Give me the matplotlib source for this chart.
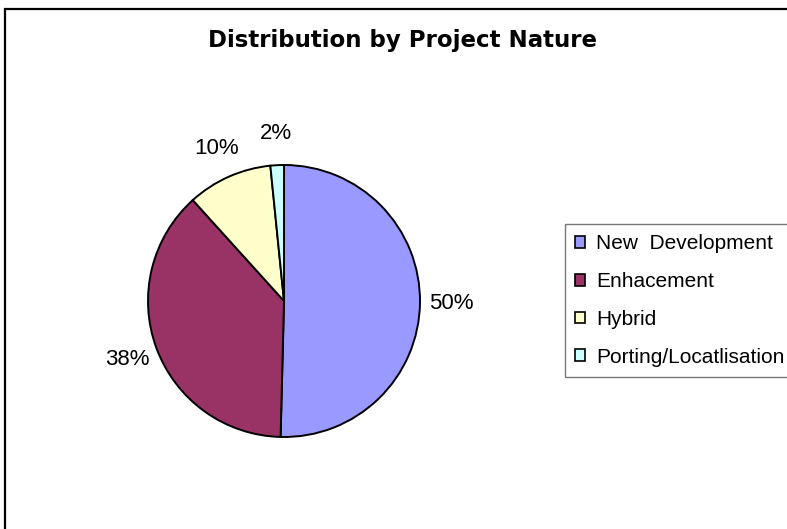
import matplotlib.pyplot as plt
from matplotlib.patches import Rectangle
import numpy as np

# Data (percent shares)
categories = ['New  Development', 'Enhacement', 'Hybrid', 'Porting/Locatlisation']
shares = [50.4, 37.9, 10.1, 1.6]
colors = ['#9999FF', '#993366', '#FFFFCC', '#CCFFFF']

plt.rcParams['font.family'] = ['Liberation Sans', 'DejaVu Sans']

W, H = 787, 529
fig = plt.figure(figsize=(W / 100, H / 100), dpi=100)

# chart-area border (right and bottom edges fall outside the picture)
fig.patches.append(Rectangle((4.5 / W, -0.1), 1.2, 1.1 - 8.5 / H,
                             transform=fig.transFigure, fill=False,
                             edgecolor='black', linewidth=1.6))

# Title
fig.text(402 / W, 1 - 47 / H, 'Distribution by Project Nature',
         ha='center', va='baseline', fontsize=16.5, fontweight='bold',
         family='DejaVu Sans')

# Pie: centre (284, 301), radius 136 px
cx, cy, r = 284, 301, 136
ax = fig.add_axes([(cx - r) / W, (H - cy - r) / H, 2 * r / W, 2 * r / H])
wedges, texts, autotexts = ax.pie(shares, colors=colors, startangle=90,
                                  counterclock=False, autopct='%.0f%%',
                                  pctdistance=1.23,
                                  wedgeprops=dict(edgecolor='black', linewidth=1.4),
                                  textprops=dict(fontsize=16, color='black'))
ax.set_xlim(-1, 1)
ax.set_ylim(-1, 1)
ax.set_aspect('equal')
for t in autotexts:
    t.set_ha('center')
    t.set_va('center')

# Legend
leg = fig.legend(wedges, categories, loc='upper left',
                 bbox_to_anchor=(565 / W, 1 - 224 / H), bbox_transform=fig.transFigure,
                 borderaxespad=0, fontsize=15, frameon=True, fancybox=False,
                 handlelength=0.48, handleheight=0.48, handletextpad=0.5,
                 labelspacing=0.9, borderpad=0.5)
leg.get_frame().set_edgecolor('#555555')
leg.get_frame().set_linewidth(1.0)
for h in leg.legend_handles:
    h.set_linewidth(1.2)

fig.savefig('out.png', dpi=100)
